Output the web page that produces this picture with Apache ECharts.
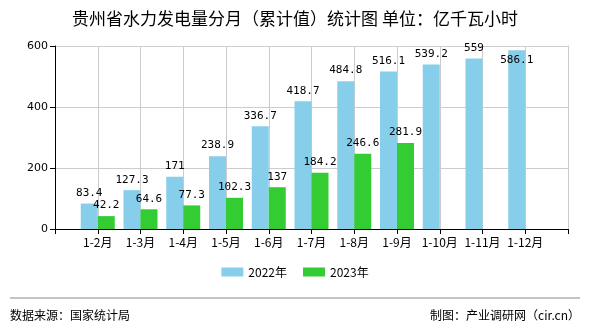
<!DOCTYPE html>
<html>
<head>
<meta charset="utf-8">
<script src="https://cdn.jsdelivr.net/npm/echarts@6/dist/echarts.min.js"></script>
<style>
html,body{margin:0;padding:0;background:#fff;}
#main{width:590px;height:330px;}
</style>
</head>
<body>
<div id="main"></div>
<script>
var categories = ['1-2月','1-3月','1-4月','1-5月','1-6月','1-7月','1-8月','1-9月','1-10月','1-11月','1-12月'];
var values2022 = [83.4,127.3,171,238.9,336.7,418.7,484.8,516.1,539.2,559,586.1];
var values2023 = [42.2,64.6,77.3,102.3,137,184.2,246.6,281.9,null,null,null];
var yTicks = [0,200,400,600];

var cats = [''].concat(categories).concat(['']);
var d22 = [null].concat(values2022.map(function(v,i){
  if (i === values2022.length - 1) {
    return {value: v, label: {position: 'insideTop', distance: 4}};
  }
  return v;
})).concat([null]);
var d23 = [null].concat(values2023).concat([null]);

var chart = echarts.init(document.getElementById('main'), null, {renderer:'canvas'});
var labelStyle = {show:true, position:'top', distance:5, color:'#000', fontSize:11, fontFamily:'DejaVu Sans Mono'};
chart.setOption({
  animation:false,
  title:{text:'贵州省水力发电量分月（累计值）统计图 单位：亿千瓦小时', left:'center', top:5,
    textStyle:{fontSize:17, fontWeight:'normal', color:'#000', fontFamily:'Noto Sans CJK SC'}},
  grid:{left:55, right:22, top:46, bottom:101},
  legend:{bottom:47, left:'center', itemWidth:22, itemHeight:9, itemGap:16, icon:'rect',
    textStyle:{fontSize:12, color:'#000', fontFamily:'Noto Sans CJK SC'},
    data:['2022年','2023年']},
  xAxis:{type:'category', data:cats, boundaryGap:false,
    axisLine:{lineStyle:{color:'#000'}},
    axisTick:{show:true, length:5, lineStyle:{color:'#000'}},
    axisLabel:{interval:0, color:'#000', fontSize:12, margin:7, fontFamily:'Noto Sans CJK SC'},
    splitLine:{show:true, showMinLine:true, showMaxLine:true, lineStyle:{color:'#cccccc'}}},
  yAxis:[
    {type:'value', min:yTicks[0], max:yTicks[yTicks.length-1], interval:200,
      axisLine:{show:true, lineStyle:{color:'#000'}},
      axisTick:{show:true, length:5, lineStyle:{color:'#000'}},
      axisLabel:{color:'#000', fontSize:11, margin:7, fontFamily:'DejaVu Sans'},
      splitLine:{show:true, lineStyle:{color:'#cccccc'}}},
    {type:'value', position:'right', min:yTicks[0], max:yTicks[yTicks.length-1], interval:200,
      axisLine:{show:true, lineStyle:{color:'#cccccc'}},
      axisTick:{show:false}, axisLabel:{show:false}, splitLine:{show:false}}
  ],
  series:[
    {name:'2022年', type:'bar', data:d22, barWidth:17, barGap:'0%', itemStyle:{color:'#87CEEB'}, label:labelStyle},
    {name:'2023年', type:'bar', data:d23, barWidth:17, barGap:'0%', itemStyle:{color:'#33CC33'}, label:labelStyle}
  ],
  graphic:[
    {type:'line', shape:{x1:10, y1:298, x2:580, y2:298}, style:{stroke:'#888', lineWidth:1}},
    {type:'text', left:10, top:309, style:{text:'数据来源：国家统计局', fontSize:12, fill:'#000', fontFamily:'Noto Sans CJK SC'}},
    {type:'text', right:10, top:309, style:{text:'制图：产业调研网（cir.cn）', fontSize:12, fill:'#000', fontFamily:'Noto Sans CJK SC'}}
  ]
});
</script>
</body>
</html>
